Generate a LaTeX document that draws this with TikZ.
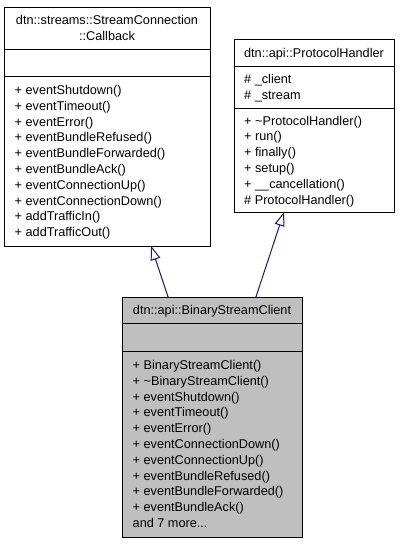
\documentclass[tikz,border=0pt]{standalone}
\usepackage{fontspec}
\setmainfont{Liberation Sans}
\usetikzlibrary{arrows.meta,calc}
\definecolor{edgeblue}{HTML}{191970}
\definecolor{hlgray}{HTML}{BFBFBF}
\tikzset{
  cls/.style={draw=black, line width=1pt, rectangle, anchor=north west, inner sep=0pt, outer sep=0pt},
  sepline/.style={draw=black, line width=1pt},
  ttl/.style={font=\fontsize{12.7}{15.8}\selectfont, inner sep=0pt, text height=9.1pt, text depth=0pt, anchor=center},
  mem/.style={font=\fontsize{12.7}{15.8}\selectfont, inner sep=0pt, text height=9.1pt, text depth=0pt, anchor=west},
  inh/.style={draw=edgeblue, line width=1pt, -{Triangle[length=14pt, width=10pt, fill=white, line width=1pt]}},
}
\begin{document}
\begin{tikzpicture}[x=1pt,y=-1pt]
\useasboundingbox (0,0) rectangle (403,544);
% ---- left class: StreamConnection::Callback
\node[cls, fill=white, minimum width=206pt, minimum height=239pt] (cb) at (4,7) {};
\draw[sepline] ($(cb.north west)+(0,42)$) -- ($(cb.north east)+(0,42)$);
\draw[sepline] ($(cb.north west)+(0,69)$) -- ($(cb.north east)+(0,69)$);
\node[ttl] (cbt1) at (107,20.1) {dtn::streams::StreamConnection};
\node[ttl] (cbt2) at (107,35.9) {::Callback};
\foreach \t [count=\i from 0] in {%
  + eventShutdown(), + eventTimeout(), + eventError(), + eventBundleRefused(),
  + eventBundleForwarded(), + eventBundleAck(), + eventConnectionUp(),
  + eventConnectionDown(), + addTrafficIn(), + addTrafficOut()}
  \node[mem] (cbm\i) at ({14.5},{89.9+15.8*\i}) {\t};
% ---- right class: ProtocolHandler
\node[cls, fill=white, minimum width=160pt, minimum height=173pt] (ph) at (234,39) {};
\draw[sepline] ($(ph.north west)+(0,27)$) -- ($(ph.north east)+(0,27)$);
\draw[sepline] ($(ph.north west)+(0,69)$) -- ($(ph.north east)+(0,69)$);
\node[ttl] (pht) at (314,52.5) {dtn::api::ProtocolHandler};
\node[mem] (pha0) at (244,79.1) {\# \_client};
\node[mem] (pha1) at (244,94.9) {\# \_stream};
\foreach \t [count=\i from 0] in {%
  + \textasciitilde ProtocolHandler(), + run(), + finally(), + setup(),
  + \_\_cancellation(), \# ProtocolHandler()}
  \node[mem] (phm\i) at ({244},{120.5+15.8*\i}) {\t};
% ---- bottom class: BinaryStreamClient
\node[cls, fill=hlgray, minimum width=180pt, minimum height=240pt] (bsc) at (122,297) {};
\draw[sepline] ($(bsc.north west)+(0,26)$) -- ($(bsc.north east)+(0,26)$);
\draw[sepline] ($(bsc.north west)+(0,54)$) -- ($(bsc.north east)+(0,54)$);
\node[ttl] (bsct) at (212,310) {dtn::api::BinaryStreamClient};
\foreach \t [count=\i from 0] in {%
  + BinaryStreamClient(), + \textasciitilde BinaryStreamClient(), + eventShutdown(),
  + eventTimeout(), + eventError(), + eventConnectionDown(), + eventConnectionUp(),
  + eventBundleRefused(), + eventBundleForwarded(), + eventBundleAck()}
  \node[mem] (bscm\i) at ({132.5},{365+15.8*\i}) {\t};
\node[mem] (bscmore) at (132.5,523) {and 7 more...};
% ---- inheritance connectors
\draw[inh] ($(bsc.north west)!0.256!(bsc.north east)$) -- ($(cb.south west)!0.714!(cb.south east)$);
\draw[inh] ($(bsc.north west)!0.744!(bsc.north east)$) -- ($(ph.south west)!0.3125!(ph.south east)$);
\end{tikzpicture}
\end{document}
